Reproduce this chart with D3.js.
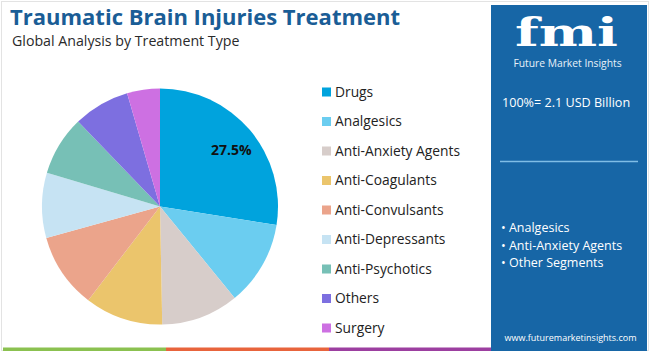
<!DOCTYPE html>
<html>
<head>
<meta charset="utf-8">
<script src="https://cdn.jsdelivr.net/npm/d3@7"></script>
<style>
  body { margin: 0; background: #fff; }
  text { font-family: "Open Sans", "Noto Sans", sans-serif; }
</style>
</head>
<body>
<svg id="chart"></svg>
<script>
// treatment types and their share (%)
var categories = ["Drugs", "Analgesics", "Anti-Anxiety Agents", "Anti-Coagulants", "Anti-Convulsants",
                  "Anti-Depressants", "Anti-Psychotics", "Others", "Surgery"]
var shares = [27.5, 11.6, 10.6, 10.7, 10.3, 8.9, 8.2, 7.7, 4.5]
var colors = ["#00a3dd", "#6bcdf0", "#d7cdca", "#ebc56c", "#eba48b", "#c6e3f3", "#77c0b6", "#7d6fe0", "#cd70e2"]
var highlights = ["Analgesics", "Anti-Anxiety Agents", "Other Segments"]
var bottomStripe = ["#8bc150", "#e8643c", "#9c3fa0"]

var screen = {width: 650, height: 352}
var svg = d3.select("#chart")
    .attr("width", screen.width)
    .attr("height", screen.height)

// light frame
svg.append("rect")
    .attr("x", 1.5).attr("y", 1.5)
    .attr("width", screen.width - 3).attr("height", screen.height - 3)
    .attr("fill", "none").attr("stroke", "#e3e3e3")

// titles
svg.append("text")
    .text("Traumatic Brain Injuries Treatment")
    .attr("x", 10).attr("y", 25)
    .attr("fill", "#1a5d96")
    .style("font-size", "22px").style("font-weight", 700)
svg.append("text")
    .text("Global Analysis by Treatment Type")
    .attr("x", 12).attr("y", 46)
    .attr("fill", "#2a2a2a")
    .style("font-size", "14.2px")

// pie
var data = categories.map(function(c, i) { return {name: c, value: shares[i]} })
var colorScale = d3.scaleOrdinal().domain(categories).range(colors)
var pie = d3.pie().sort(null).value(function(d) { return d.value })
var radius = 118
var arc = d3.arc().innerRadius(0).outerRadius(radius)
var pieG = svg.append("g").attr("transform", "translate(160,206.5)")

pieG.selectAll("path")
    .data(pie(data))
    .enter()
    .append("path")
    .attr("d", arc)
    .attr("fill", function(d) { return colorScale(d.data.name) })

var labelArc = d3.arc().innerRadius(radius * 0.76).outerRadius(radius * 0.76)
pieG.selectAll("text.pct")
    .data(pie(data).filter(function(d) { return d.data.name == "Drugs" }))
    .enter()
    .append("text")
    .attr("class", "pct")
    .attr("transform", function(d) { return "translate(" + labelArc.centroid(d) + ")" })
    .attr("text-anchor", "middle")
    .attr("dx", 3).attr("dy", "0.5em")
    .attr("fill", "#111")
    .style("font-size", "14px").style("font-weight", 700)
    .text(function(d) { return d.data.value.toFixed(1) + "%" })

// legend
var legendY = d3.scalePoint().domain(categories).range([92, 328])
var legend = svg.append("g").attr("class", "legend")
var entries = legend.selectAll("g")
    .data(categories)
    .enter()
    .append("g")
    .attr("transform", function(c) { return "translate(322," + legendY(c) + ")" })
entries.append("rect")
    .attr("x", 0).attr("y", -4.5)
    .attr("width", 9).attr("height", 9)
    .attr("fill", function(c) { return colorScale(c) })
entries.append("text")
    .text(function(c) { return c })
    .attr("x", 13).attr("dy", "0.36em")
    .attr("fill", "#222")
    .style("font-size", "13.8px")

// bottom stripe
var stripeX = d3.scaleBand().domain(d3.range(bottomStripe.length)).range([3, 492])
svg.selectAll("rect.stripe")
    .data(bottomStripe)
    .enter()
    .append("rect")
    .attr("class", "stripe")
    .attr("x", function(d, i) { return stripeX(i) })
    .attr("y", 347.5)
    .attr("width", stripeX.bandwidth())
    .attr("height", 3.5)
    .attr("fill", function(d) { return d })

// right side panel
var panel = svg.append("g")
panel.append("rect")
    .attr("x", 491).attr("y", 5)
    .attr("width", 156).attr("height", 346)
    .attr("fill", "#1766a6")

panel.append("text")
    .text("fmi")
    .attr("x", 515).attr("y", 46)
    .attr("textLength", 103).attr("lengthAdjust", "spacingAndGlyphs")
    .attr("fill", "#fff")
    .style("font-family", "'DejaVu Serif', serif")
    .style("font-size", "39px").style("font-weight", 700)
panel.append("text")
    .text("Future Market Insights")
    .attr("x", 567.5).attr("y", 67)
    .attr("text-anchor", "middle")
    .attr("fill", "#e8f1f8")
    .style("font-size", "10.3px")

panel.append("text")
    .text("100%= 2.1 USD Billion")
    .attr("x", 502).attr("y", 107)
    .attr("fill", "#fff")
    .style("font-size", "12.6px")

panel.append("line")
    .attr("x1", 500).attr("x2", 638)
    .attr("y1", 161.5).attr("y2", 161.5)
    .attr("stroke", "#7fbde6").attr("stroke-width", 1.5)

panel.selectAll("text.hl")
    .data(highlights)
    .enter()
    .append("text")
    .attr("class", "hl")
    .text(function(d) { return "\u2022 " + d })
    .attr("x", 501)
    .attr("y", function(d, i) { return 232 + i * 17.5 })
    .attr("fill", "#fff")
    .style("font-size", "12.5px")

panel.append("text")
    .text("www.futuremarketinsights.com")
    .attr("x", 570.5).attr("y", 341)
    .attr("text-anchor", "middle")
    .attr("fill", "#fff")
    .style("font-size", "9px")
</script>
</body>
</html>
